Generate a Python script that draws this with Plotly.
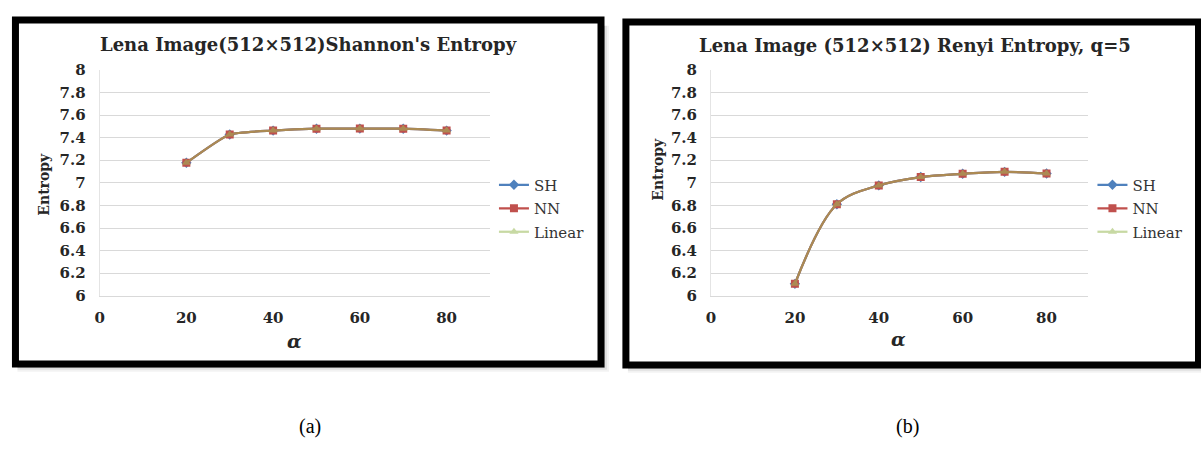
import plotly.graph_objects as go

W, H = 1201, 460

# ---------------- data ----------------
alpha = [20, 30, 40, 50, 60, 70, 80]
shannon_sh = [7.177, 7.428, 7.462, 7.479, 7.480, 7.479, 7.462]
shannon_nn = [7.177, 7.428, 7.462, 7.479, 7.480, 7.479, 7.462]
shannon_linear = [7.177, 7.428, 7.462, 7.479, 7.480, 7.479, 7.462]
renyi_sh = [6.106, 6.810, 6.977, 7.051, 7.080, 7.097, 7.083]
renyi_nn = [6.106, 6.810, 6.977, 7.051, 7.080, 7.097, 7.083]
renyi_linear = [6.106, 6.810, 6.977, 7.051, 7.080, 7.097, 7.083]

series_names = ["SH", "NN", "Linear"]
x_tickvals = [0, 20, 40, 60, 80]
y_tickvals = [6, 6.2, 6.4, 6.6, 6.8, 7, 7.2, 7.4, 7.6, 7.8, 8]
y_ticktext = ["6", "6.2", "6.4", "6.6", "6.8", "7", "7.2", "7.4", "7.6", "7.8", "8"]
titles = ["Lena Image(512×512)Shannon's Entropy", "Lena Image (512×512) Renyi Entropy, q=5"]
captions = ["(a)", "(b)"]

colors = ["#4F81BD", "#C0504D", "#9BBB59"]
symbols = ["diamond", "square", "triangle-up"]
opac = [1.0, 1.0, 0.55]

SERIF = "DejaVu Serif"


def px(x):
    return x / W


def py(y):
    return 1 - y / H


fig = go.Figure()

panels = [
    dict(ys=[shannon_sh, shannon_nn, shannon_linear], xa="x", ya="y", legend="legend", smooth=0.5),
    dict(ys=[renyi_sh, renyi_nn, renyi_linear], xa="x2", ya="y2", legend="legend2", smooth=1.0),
]

for p in panels:
    for i, name in enumerate(series_names):
        fig.add_trace(go.Scatter(
            x=alpha, y=p["ys"][i], name=name, mode="lines+markers",
            xaxis=p["xa"], yaxis=p["ya"], legend=p["legend"], legendgroup=p["legend"] + name,
            line=dict(color=colors[i], width=2.25, shape="spline", smoothing=p["smooth"]),
            marker=dict(symbol=symbols[i], size=8, color=colors[i]),
            opacity=opac[i],
        ))

x_domains = [[px(95), px(487)], [px(709), px(1088)]]
y_domain = [py(298.5), py(63.3)]

axis_font = dict(family=SERIF, size=15, color="#262626", weight="bold")


def xaxis(dom, anchor):
    return dict(domain=dom, range=[0, 90], tickvals=x_tickvals, showgrid=False, zeroline=False,
                showline=True, linecolor="#d9d9d9", linewidth=1, ticks="outside", ticklen=8,
                tickcolor="rgba(0,0,0,0)", tickfont=axis_font, anchor=anchor, fixedrange=True)


def yaxis(anchor):
    return dict(domain=y_domain, range=[6, 8], tickvals=y_tickvals, ticktext=y_ticktext,
                showgrid=True, gridcolor="#d9d9d9", gridwidth=1, zeroline=False,
                showline=True, linecolor="#e4e4e4", linewidth=1, ticks="outside", ticklen=10,
                tickcolor="rgba(0,0,0,0)", tickfont=axis_font, anchor=anchor, fixedrange=True)


legend_common = dict(font=dict(family=SERIF, size=15, color="#333333"), bgcolor="rgba(0,0,0,0)",
                     traceorder="grouped", tracegroupgap=1, itemwidth=30,
                     xanchor="left", yanchor="top")

shapes = []
frames = [(10.5, 11.5, 598.5, 369.5), (623.5, 13.5, 1198.5, 370.5)]
for (x0, y0, x1, y1) in frames:
    for k, a in [(8, 0.05), (6, 0.07), (4, 0.1), (2, 0.14)]:
        shapes.append(dict(type="rect", xref="paper", yref="paper",
                           x0=px(x0 + 2), y0=py(y1 + k), x1=px(x1 + k), y1=py(y0 + 6),
                           line=dict(width=0), fillcolor=f"rgba(0,0,0,{a})", layer="below"))
    shapes.append(dict(type="rect", xref="paper", yref="paper",
                       x0=px(x0), y0=py(y1), x1=px(x1), y1=py(y0),
                       line=dict(color="black", width=7), fillcolor="white", layer="below"))

annotations = []
title_pos = [(305, 37), (914, 38)]
ent_pos = [(39, 182), (656, 167)]
alpha_pos = [(291, 345), (897, 343)]
cap_pos = [(306, 435), (906, 435)]
for i in range(2):
    annotations.append(dict(text="<b>" + titles[i] + "</b>", x=px(title_pos[i][0]), y=py(title_pos[i][1]),
                            xref="paper", yref="paper", showarrow=False, xanchor="center", yanchor="middle",
                            font=dict(family=SERIF, size=18, color="#262626")))
    annotations.append(dict(text="<b>Entropy</b>", x=px(ent_pos[i][0]), y=py(ent_pos[i][1]), textangle=-90,
                            xref="paper", yref="paper", showarrow=False, xanchor="center", yanchor="middle",
                            font=dict(family=SERIF, size=14, color="#262626")))
    annotations.append(dict(text="<b><i>α</i></b>", x=px(alpha_pos[i][0]), y=py(alpha_pos[i][1]),
                            xref="paper", yref="paper", showarrow=False, xanchor="center", yanchor="middle",
                            font=dict(family=SERIF, size=19, color="#262626")))
    annotations.append(dict(text=captions[i], x=px(cap_pos[i][0]), y=py(cap_pos[i][1]),
                            xref="paper", yref="paper", showarrow=False, xanchor="center", yanchor="middle",
                            font=dict(family="Liberation Serif", size=20, color="black")))

fig.update_layout(
    width=W, height=H, margin=dict(l=0, r=0, t=0, b=0),
    paper_bgcolor="white", plot_bgcolor="rgba(0,0,0,0)",
    xaxis=xaxis(x_domains[0], "y"), yaxis=yaxis("x"),
    xaxis2=xaxis(x_domains[1], "y2"), yaxis2=yaxis("x2"),
    legend=dict(x=px(491), y=py(166), **legend_common),
    legend2=dict(x=px(1092), y=py(166), **legend_common),
    shapes=shapes, annotations=annotations, showlegend=True,
)

fig.write_html("out.html")
